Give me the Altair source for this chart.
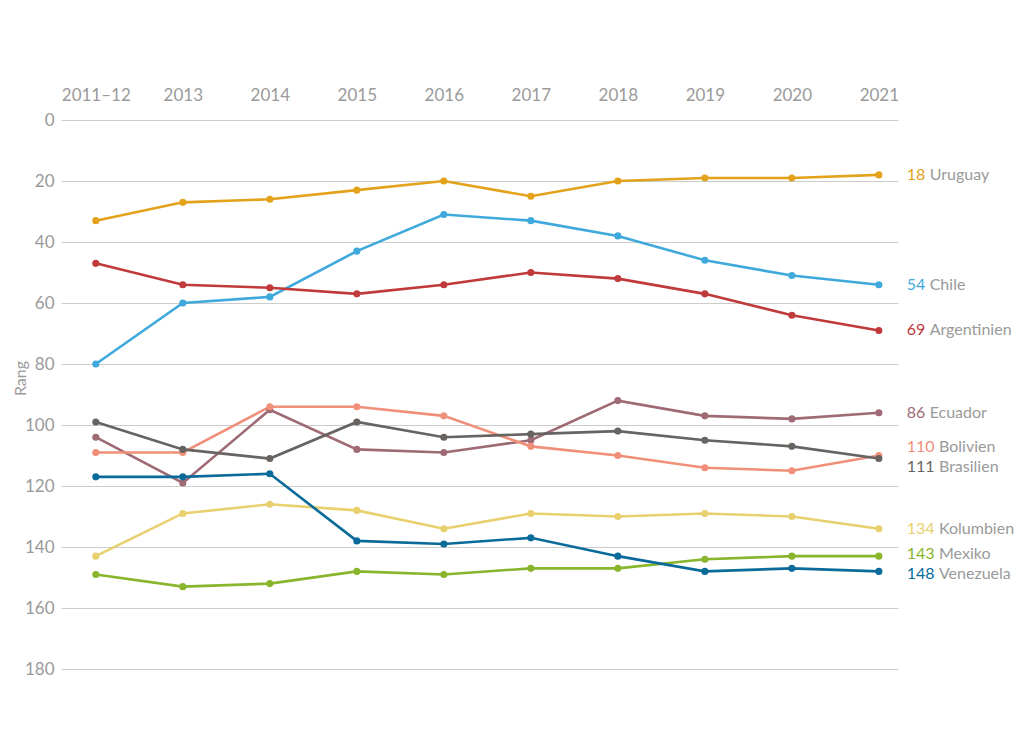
import altair as alt
import pandas as pd

years = ["2011–12", "2013", "2014", "2015", "2016", "2017", "2018", "2019", "2020", "2021"]
countries = ["Uruguay", "Chile", "Argentinien", "Ecuador", "Bolivien", "Brasilien", "Kolumbien", "Mexiko", "Venezuela"]
colors = ["#E3A21A", "#3FA9DC", "#C0393B", "#9E6B74", "#F0907A", "#666360", "#E8D06E", "#88B52C", "#0A6A9A"]
label_values = [18, 54, 69, 86, 110, 111, 134, 143, 148]

uruguay = [33, 27, 26, 23, 20, 25, 20, 19, 19, 18]
chile = [80, 60, 58, 43, 31, 33, 38, 46, 51, 54]
argentinien = [47, 54, 55, 57, 54, 50, 52, 57, 64, 69]
ecuador = [104, 119, 95, 108, 109, 105, 92, 97, 98, 96]
bolivien = [109, 109, 94, 94, 97, 107, 110, 114, 115, 110]
brasilien = [99, 108, 111, 99, 104, 103, 102, 105, 107, 111]
kolumbien = [143, 129, 126, 128, 134, 129, 130, 129, 130, 134]
mexiko = [149, 153, 152, 148, 149, 147, 147, 144, 143, 143]
venezuela = [117, 117, 116, 138, 139, 137, 143, 148, 147, 148]

series = [uruguay, chile, argentinien, ecuador, bolivien, brasilien, kolumbien, mexiko, venezuela]

rows = []
for c, vals in zip(countries, series):
    for i, v in enumerate(vals):
        rows.append({"country": c, "idx": i, "year": years[i], "rank": v})
df = pd.DataFrame(rows)

# label layout: start at last value, push apart overlapping labels
gap = 6.6
last = [s[-1] for s in series]
order = sorted(range(len(countries)), key=lambda k: last[k])
clusters = [[k] for k in order]
def pos_of(cl):
    m = sum(last[k] for k in cl) / len(cl)
    start = m - gap * (len(cl) - 1) / 2
    return [start + gap * j for j in range(len(cl))]
changed = True
while changed:
    changed = False
    for j in range(len(clusters) - 1):
        a, b = clusters[j], clusters[j + 1]
        if pos_of(b)[0] - pos_of(a)[-1] < gap:
            clusters[j] = a + b
            del clusters[j + 1]
            changed = True
            break
label_y = {}
for cl in clusters:
    for k, p in zip(cl, pos_of(cl)):
        label_y[k] = p

x_num = 9.32
digit_w = 0.107
lab = pd.DataFrame({
    "country": countries,
    "num": [str(v) for v in label_values],
    "ly": [label_y[k] for k in range(len(countries))],
    "xn": [x_num] * len(countries),
    "xname": [x_num + len(str(v)) * digit_w + 0.05 for v in label_values],
})

FONT = "Lato"
GRAY = "#9a9a9a"
FS = 17
LFS = 16
color_scale = alt.Scale(domain=countries, range=colors)

xscale = alt.Scale(domain=[-0.40, 9.22], nice=False, zero=False)
yscale = alt.Scale(domain=[0, 180], reverse=True, nice=False)

label_expr = "[" + ",".join("'" + y + "'" for y in years) + "][datum.value]"

base = alt.Chart(df).encode(
    x=alt.X("idx:Q", scale=xscale,
            axis=alt.Axis(orient="top", values=list(range(len(years))), labelExpr=label_expr,
                          grid=False, ticks=False, domain=False, title=None,
                          labelFont=FONT, labelFontSize=FS, labelColor=GRAY, labelPadding=16)),
    y=alt.Y("rank:Q", scale=yscale,
            axis=alt.Axis(values=list(range(0, 181, 20)), grid=True, gridColor="#cccccc",
                          ticks=False, domain=False, title="Rang", titleFont=FONT,
                          titleFontSize=16, titleFontWeight="normal", titleColor=GRAY,
                          titleX=-36, titleY=258, titleBaseline="alphabetic",
                          labelFont=FONT, labelFontSize=FS, labelColor=GRAY, labelPadding=7)),
    color=alt.Color("country:N", scale=color_scale, legend=None),
    detail="country:N",
)

lines = base.mark_line(strokeWidth=2.6)
points = base.mark_circle(size=50, opacity=1)

nums = alt.Chart(lab).mark_text(align="left", baseline="middle", font=FONT, fontSize=LFS).encode(
    x=alt.X("xn:Q", scale=xscale),
    y=alt.Y("ly:Q", scale=yscale),
    text="num:N",
    color=alt.Color("country:N", scale=color_scale, legend=None),
)
names = alt.Chart(lab).mark_text(align="left", baseline="middle", font=FONT, fontSize=LFS, color=GRAY).encode(
    x=alt.X("xname:Q", scale=xscale),
    y=alt.Y("ly:Q", scale=yscale),
    text="country:N",
)

chart = alt.layer(lines, points, nums, names).properties(
    width=837, height=549,
    autosize=alt.AutoSizeParams(type="none"),
    padding={"left": 53, "top": 112, "right": 118, "bottom": 40},
).configure_view(stroke=None)

chart.save("out.html", embed_options={"renderer": "svg", "actions": False})
